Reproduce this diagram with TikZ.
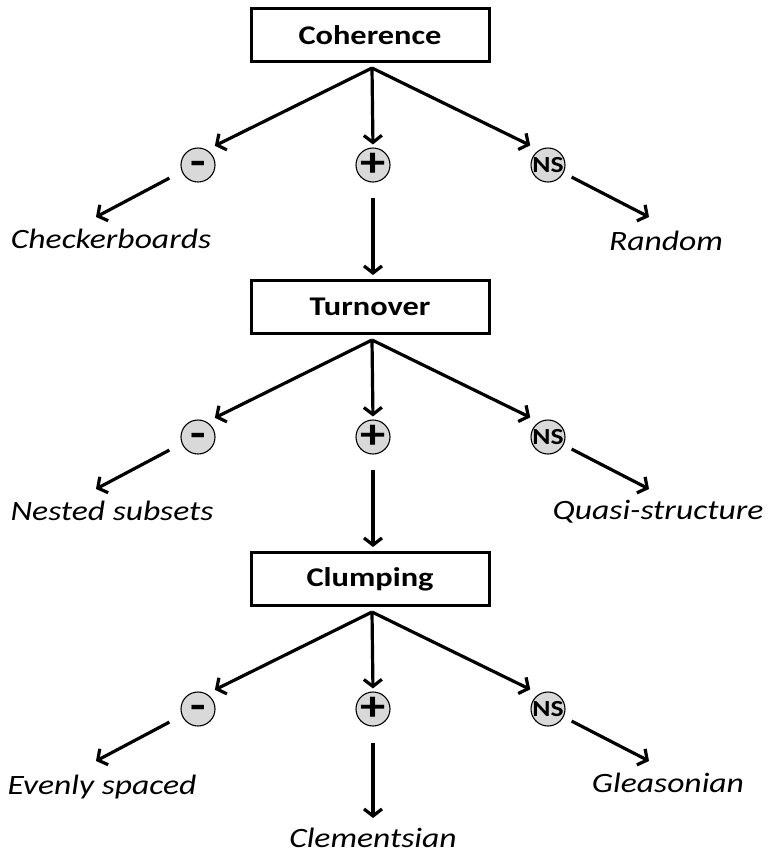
\documentclass[tikz,border=0pt]{standalone}
\usepackage{fontspec}
\setmainfont{Carlito}[FakeStretch=1.2]
\usetikzlibrary{positioning,calc,arrows.meta}

\begin{document}
\begin{tikzpicture}[x=1pt, y=-1pt]
\tikzset{
  level/.style={draw=black, line width=3pt, fill=white, minimum width=238pt, minimum height=53pt, inner sep=0pt, font=\bfseries\fontsize{27}{30}\selectfont},
  sign/.style={circle, draw=black, line width=1.1pt, fill=black!15, minimum size=34pt, inner sep=0pt, font=\bfseries\fontsize{42}{42}\selectfont},
  nsign/.style={sign, font=\bfseries\fontsize{23}{23}\selectfont},
  outcome/.style={anchor=base, font=\itshape\fontsize{28}{32}\selectfont},
  link/.style={line width=3.2pt, -{Straight Barb[length=7pt, width=18pt]}}
}
\useasboundingbox (0,0) rectangle (772,855);
\node[level] (coh) at (370,35) {Coherence};
\node[level] (tur) at (370,307) {Turnover};
\node[level] (clu) at (370,579) {Clumping};
% the three branches under each box
\foreach \lv in {coh,tur,clu}{
  \coordinate (\lv-fan) at ($(\lv.south)+(2,5)$);
  \node[sign]  (\lv-neg) at ($(\lv.south)+(-172,102)$) {\makebox[0pt]{\raisebox{-10pt}[0pt][0pt]{-}}};
  \node[sign]  (\lv-pos) at ($(\lv.south)+(3,102)$) {\makebox[0pt]{+}};
  \node[nsign] (\lv-ns)  at ($(\lv.south)+(178,102)$) {\makebox[0pt]{NS}};
  \draw[link, shorten >=9pt] (\lv-fan) -- (\lv-neg.60);
  \draw[link, shorten >=3pt] (\lv-fan) -- (\lv-pos.north);
  \draw[link, shorten >=10pt] (\lv-fan) -- (\lv-ns.120);
  \coordinate (\lv-negtip) at ($(\lv-neg)+(-102,52)$);
  \coordinate (\lv-nstip) at ($(\lv-ns)+(101,52)$);
  \draw[link, shorten <=14pt] (\lv-neg.202) -- (\lv-negtip);
  \draw[link, shorten <=9pt] (\lv-ns.333) -- (\lv-nstip);
}
\node[outcome] (chk) at ($(coh-neg)+(-87,83)$) {Checkerboards};
\node[outcome] (rnd) at ($(coh-ns)+(118,85)$) {Random};
\node[outcome] (nst) at ($(tur-neg)+(-86,83)$) {Nested subsets};
\node[outcome] (qsi) at ($(tur-ns)+(110,82)$) {Quasi-structure};
\node[outcome] (evn) at ($(clu-neg)+(-96,85)$) {Evenly spaced};
\node[outcome] (gls) at ($(clu-ns)+(120,83)$) {Gleasonian};
\node[outcome] (clm) at ($(clu-pos)+(0,138)$) {Clementsian};
% plus leads on
\coordinate (clu-postip) at ($(clu-pos)+(0,109)$);
\draw[link, shorten <=15pt, shorten >=4pt] (coh-pos.south) -- (coh-pos |- tur.north);
\draw[link, shorten <=15pt, shorten >=4pt] (tur-pos.south) -- (tur-pos |- clu.north);
\draw[link, shorten <=16pt] (clu-pos.south) -- (clu-postip);
\end{tikzpicture}
\end{document}
